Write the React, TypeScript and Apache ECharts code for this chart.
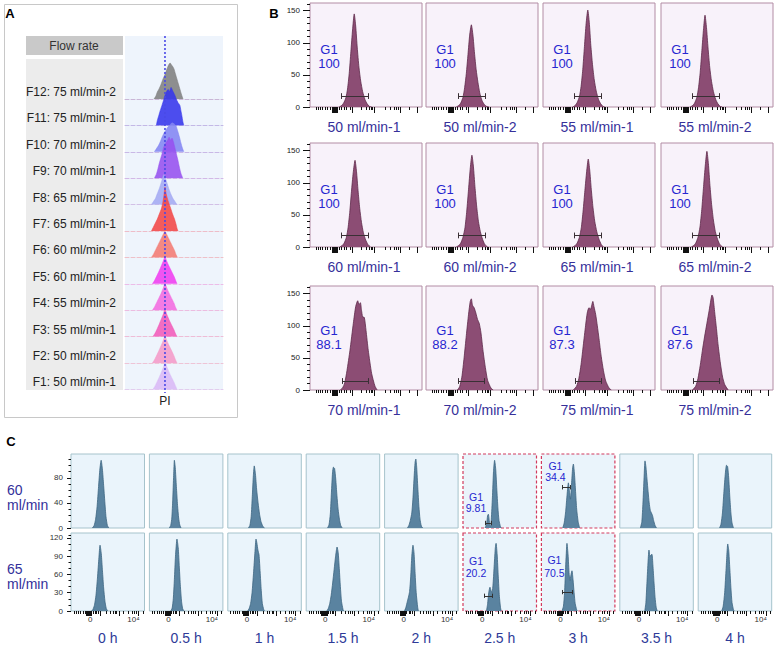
import React, { useEffect, useRef } from "react";
import * as echarts from "echarts";

const FONT = "'Liberation Sans', Arial, Helvetica, sans-serif";

// ---------------- Panel A data ----------------
const ridgeLabels = [
  "F12: 75 ml/min-2", "F11: 75 ml/min-1", "F10: 70 ml/min-2", "F9: 70 ml/min-1",
  "F8: 65 ml/min-2", "F7: 65 ml/min-1", "F6: 60 ml/min-2", "F5: 60 ml/min-1",
  "F4: 55 ml/min-2", "F3: 55 ml/min-1", "F2: 50 ml/min-2", "F1: 50 ml/min-1",
];
const ridgeColors = [
  "#7f7f7f", "#3535ec", "#8385f2", "#9650ef", "#a4aaf3", "#f24646",
  "#f47a72", "#f03cf0", "#f46ae0", "#f25ab9", "#f59ac8", "#d9b8f6",
];
const ridgeLineColors = [
  "#c9b6d6", "#c3b8e6", "#c9b8e6", "#d2b8e6", "#d2c0e6", "#eebdc8",
  "#eec0c8", "#ecbce8", "#ecbce0", "#eebcd6", "#eec4d6", "#e2cdee",
];
const ridgeF12 = [[29.6,0],[31.5,3],[33,7],[34.7,10],[36.5,14],[38.8,20],[41,25],[42.8,30],[44.5,34],[46,36],[47.5,34],[49,32],[50,30],[51.5,25],[53,20],[54.5,15],[56,10],[57.5,5],[59.2,0]];
const ridgeF11 = [[32,0],[33,5],[34.5,10],[36,15],[37.7,20],[39.3,25],[40.8,30],[42.5,34],[44,36],[45.5,34],[47,38],[48.5,35],[50,32],[51,30],[52.5,26],[54,23],[56,20],[57,15],[58,10],[59,4],[60,0]];
const ridgeF10 = [[30,0],[32,3],[34,6],[36,10],[38,15],[40,19],[42,22],[44,25],[46,27],[48,29],[50,28],[52,26],[54,20],[55.5,15],[57,9],[58.5,4],[60,0]];
const ridgeF9 = [[30,0],[32,4],[33.5,9],[35,15],[36.5,20],[38,25],[39.5,31],[41.5,35],[43.5,38],[45,41],[46.5,38],[48,40],[49.5,36],[51,30],[52.5,24],[54,18],[55.5,11],[57,5],[59,0]];
const ridgeF8 = [[27,0],[29,3],[31,6],[33,11],[35,16],[37,22],[38.5,27],[39.5,30],[41,27],[43,21],[45,15],[47,10],[49,6],[51,3],[53,0]];
const ridgeF7 = [[27,0],[29,4],[31,8],[33,12],[35,17],[37,22],[38.5,28],[39.8,36],[40.8,44],[42,37],[44,30],[46.5,23],[48.5,17],[50.5,12],[52,7],[53,3],[54,0]];
const ridgeF6 = [[27,0],[29,3],[31,7],[33,11],[35,15],[37,19],[39,23],[40.8,26],[42.5,23],[44.5,19],[46.5,15],[48.5,11],[50.5,7],[52,3],[53.5,0]];
const ridgeF5 = [[28,0],[30,3],[32,7],[34,11],[35.8,15],[37.5,19],[39.2,23],[40.8,27],[42.4,23],[44.2,19],[46.2,15],[48.2,11],[50.2,7],[51.8,3],[53,0]];
const ridgeF4 = [[28,0],[30,3],[32,7],[34,11],[36,15],[37.8,19],[39.4,23],[40.8,27],[42.3,23],[44,19],[46,15],[48,11],[50,7],[51.5,3],[53,0]];
const ridgeF3 = [[28.5,0],[30.5,3],[32.5,7],[34.3,11],[36,15],[37.7,19],[39.3,23],[40.8,28],[42.3,23],[44,19],[45.8,15],[47.8,11],[49.8,7],[51.5,3],[53,0]];
const ridgeF2 = [[28,0],[30,3],[32,7],[34,11],[35.8,15],[37.6,19],[39.3,23],[40.8,27],[42.4,23],[44.2,19],[46.2,15],[48.2,11],[50,7],[51.6,3],[53,0]];
const ridgeF1 = [[28.5,0],[30.5,3],[32.5,7],[34.4,11],[36.2,15],[37.9,19],[39.5,23],[41,28],[42.5,23],[44.2,19],[46,15],[48,11],[50,7],[51.7,3],[53,0]];
const ridgeData = [ridgeF12, ridgeF11, ridgeF10, ridgeF9, ridgeF8, ridgeF7, ridgeF6, ridgeF5, ridgeF4, ridgeF3, ridgeF2, ridgeF1];
const piMarker = 40.8;

// ---------------- Panel B data ----------------
const bLabels = [
  "50 ml/min-1", "50 ml/min-2", "55 ml/min-1", "55 ml/min-2",
  "60 ml/min-1", "60 ml/min-2", "65 ml/min-1", "65 ml/min-2",
  "70 ml/min-1", "70 ml/min-2", "75 ml/min-1", "75 ml/min-2",
];
const bG1Values = ["100", "100", "100", "100", "100", "100", "100", "100", "88.1", "88.2", "87.3", "87.6"];
const b50_1 = [[26,0],[28,2],[30,6],[32,14],[33.5,28],[35,52],[36.5,86],[38,120],[39.5,145],[40.8,126],[42.2,92],[43.7,62],[45.3,40],[47,24],[49,12],[51,5],[53,1],[55,0]];
const b50_2 = [[27,0],[29,2],[31,6],[33,15],[34.5,30],[36,52],[37.5,82],[39,112],[40.5,128],[41.9,112],[43.3,84],[44.8,58],[46.4,38],[48,22],[50,10],[52,4],[54,1],[56,0]];
const b55_1 = [[26.5,0],[28.5,2],[30.5,7],[32.5,16],[34,32],[35.5,58],[37,94],[38.5,130],[40,151],[41.3,132],[42.7,96],[44.2,66],[45.8,42],[47.5,25],[49.5,12],[51.5,5],[53.5,1],[55,0]];
const b55_2 = [[26,0],[28,2],[30,6],[32,15],[33.5,30],[35,54],[36.5,88],[38,122],[39.3,143],[40.6,124],[42,92],[43.5,62],[45.1,40],[46.8,24],[48.8,12],[50.8,5],[52.8,1],[54.5,0]];
const b60_1 = [[26.5,0],[28.5,2],[30.5,6],[32.5,15],[34,30],[35.5,54],[37,86],[38.6,116],[40.2,135],[41.5,118],[42.9,88],[44.4,60],[46,38],[47.7,22],[49.7,11],[51.7,4],[54,0]];
const b60_2 = [[27,0],[29,2],[31,6],[33,15],[34.8,30],[36.4,56],[38,90],[39.6,124],[41,143],[42.3,126],[43.7,94],[45.2,64],[46.8,40],[48.5,24],[50.5,12],[52.5,4],[55,0]];
const b65_1 = [[26.5,0],[28.5,2],[30.5,6],[32.5,15],[34.2,30],[35.8,56],[37.4,88],[39,118],[40.4,137],[41.7,120],[43.1,90],[44.6,62],[46.2,40],[48,24],[50,12],[52,4],[54,0]];
const b65_2 = [[27,0],[29,2],[31,6],[33,15],[34.8,31],[36.4,58],[38,94],[39.6,128],[41,149],[42.3,130],[43.7,96],[45.2,66],[46.8,42],[48.5,24],[50.5,12],[52.5,4],[55,0]];
const b70_1 = [[27,0],[29,3],[31,11],[33,30],[35.7,62],[38.7,104],[40.8,130],[42.6,139],[43.8,133],[45,136],[46,124],[47,114],[48.5,113],[50,93],[52,62],[55,26],[58,6],[60,0]];
const b70_2 = [[28,0],[30,5],[32,20],[34,50],[36,85],[38,118],[39.5,138],[40.5,142],[41.5,132],[43,128],[44.5,120],[46,110],[47.5,104],[49,90],[51,60],[53,35],[55,15],[58,3],[60,0]];
const b75_1 = [[27,0],[30,6],[32,18],[34,40],[36,70],[38,100],[39.5,120],[41,128],[42.5,126],[43.5,132],[44.5,138],[45.5,130],[47,118],[48.5,100],[50,80],[52,52],[54,30],[56,14],[59,3],[61,0]];
const b75_2 = [[28,0],[31,6],[33,18],[35,38],[37,62],[39,84],[41,104],[43,124],[44.5,140],[45.5,148],[46.5,144],[48,120],[49.5,96],[51,70],[53,42],[55,20],[57,8],[60,0]];
const bHists = [b50_1, b50_2, b55_1, b55_2, b60_1, b60_2, b65_1, b65_2, b70_1, b70_2, b75_1, b75_2];
// gate: [start, end, height]
const bGates = [
  [28, 52, 17], [29, 53, 17], [28, 52, 17], [28, 52, 17],
  [28, 52, 18], [29, 53, 18], [28, 52, 18], [28, 52, 18],
  [29, 52, 14], [29, 52, 14], [29, 52, 14], [29, 52, 14],
];
const bYMajorTicks = [0, 50, 100, 150];
const bYMinorTicks = [10, 20, 30, 40, 60, 70, 80, 90, 110, 120, 130, 140, 160];
const bXMajorTicks = [20, 20.4, 20.8, 21.2, 21.6, 22, 22.4, 22.8, 23.2, 23.6, 24, 37.8, 57.4, 81, 96];
const bXMinorTicks = [5.4, 7.4, 9.2, 11, 13.4, 15.8, 17.9, 26, 28, 30.7, 32.7, 35.7, 45.5, 50.6, 53, 54.5, 56, 67, 72, 75.3, 77.4, 78.9, 89];

// ---------------- Panel C data ----------------
const cTimes = ["0 h", "0.5 h", "1 h", "1.5 h", "2 h", "2.5 h", "3 h", "3.5 h", "4 h"];
const cRowNames = ["60", "65"];
const c60_0 = [[29,0],[31.5,4],[33.5,14],[35.5,34],[37.5,66],[39.3,94],[41,108],[42.7,94],[44.4,68],[46,42],[47.6,18],[49.5,4],[51.5,0]];
const c60_05 = [[27,0],[29,4],[30.5,16],[31.8,46],[33,84],[34,108],[35.2,96],[36.7,66],[38.3,36],[39.8,16],[41.3,5],[43,0]];
const c60_1 = [[28,0],[30,4],[31.8,18],[33.3,50],[34.8,84],[36,99],[37.6,86],[39.2,62],[41.2,40],[43.2,22],[45.2,10],[48,2],[50,0]];
const c60_15 = [[29,0],[31,5],[32.8,22],[34.3,56],[35.8,88],[37,97],[38.6,95],[40.2,78],[41.8,52],[43.4,30],[45.2,14],[47,4],[49,0]];
const c60_2 = [[31,0],[33,4],[35,12],[37,24],[38.5,46],[40,78],[41.5,105],[42.5,110],[43.7,96],[45.2,64],[46.7,34],[48.2,14],[50,3],[52,0]];
const c60_25 = [[30,0],[32,6],[33.5,20],[34.5,22],[35.5,14],[36.5,4],[37.5,3],[38.5,14],[40,48],[41.5,90],[43,108],[44.5,94],[46,62],[47.5,32],[49,12],[51,2],[52,0]];
const c60_3 = [[29,0],[31,8],[33,26],[35,54],[36.7,72],[38,60],[39.5,46],[41,70],[42.5,96],[43.5,102],[45,86],[46.5,58],[48,30],[50,10],[52,0]];
const c60_35 = [[28,0],[30,10],[31.5,40],[33,80],[34.3,107],[35.5,98],[37,78],[38.5,58],[40,40],[41.5,28],[43,24],[44.5,20],[46,12],[48,4],[50,0]];
const c60_4 = [[29,0],[31,6],[33,24],[35,58],[37,88],[38.5,100],[40,98],[41.5,80],[43,50],[44.5,24],[46,8],[48,0]];
const c65_0 = [[28,0],[30,3],[32,10],[34,26],[36,54],[38,88],[39.5,108],[41.2,94],[42.8,66],[44.4,38],[46.2,16],[48,4],[50,0]];
const c65_05 = [[29,0],[31,5],[32.5,20],[34,52],[35.5,90],[37.5,118],[39.2,104],[40.7,72],[42.2,40],[43.7,16],[45.2,4],[47,0]];
const c65_1 = [[27,0],[29,4],[31,12],[33,30],[35,62],[37,98],[38.4,118],[39.5,112],[41,100],[42.5,92],[44,64],[45.5,34],[47,12],[49,2],[50,0]];
const c65_15 = [[28,0],[30,4],[32,12],[34,26],[36,46],[38,68],[40,90],[42,105],[43.5,96],[45,70],[46.5,40],[48,16],[50,3],[51,0]];
const c65_2 = [[27,0],[29,6],[31,16],[32.5,23],[34,32],[35.5,56],[37,90],[38.6,108],[40,96],[41.5,62],[43,30],[45,6],[46,0]];
const c65_25 = [[32,0],[33.5,12],[35,30],[36.7,39],[38,34],[39.5,30],[41,46],[42.5,76],[44,104],[45,111],[46.5,92],[48,56],[49.5,24],[51,6],[52,0]];
const c65_3 = [[28,0],[30,8],[31.5,30],[33,72],[34.8,111],[36.3,92],[37.8,60],[39,50],[40,58],[41.6,66],[43,52],[44.5,30],[46,12],[48,2],[49,0]];
const c65_35 = [[34,0],[35.5,14],[37,48],[38.5,82],[39.7,100],[41,90],[42.5,92],[43.8,93],[45,76],[46.5,48],[48,22],[49.5,6],[51,0]];
const c65_4 = [[32,0],[34,8],[36,30],[38,70],[40.2,110],[41.5,100],[43,70],[44.5,38],[46,14],[48,2],[49,0]];
const cHists = [
  [c60_0, c60_05, c60_1, c60_15, c60_2, c60_25, c60_3, c60_35, c60_4],
  [c65_0, c65_05, c65_1, c65_15, c65_2, c65_25, c65_3, c65_35, c65_4],
];
const cG1Values = [
  [null, null, null, null, null, "9.81", "34.4", null, null],
  [null, null, null, null, null, "20.2", "70.5", null, null],
];
const cGates = [
  [null, null, null, null, null, [30, 38, 8], [28.4, 39.3, 65], null, null],
  [null, null, null, null, null, [28.6, 39.5, 25], [28, 41.6, 31], null, null],
];
const cHighlighted = [5, 6];
const cYMax = [118, 128];
const cYMajorTicks = [[0, 40, 80], [0, 30, 60, 90, 120]];
const cYMinorTicks = [[10, 20, 30, 50, 60, 70, 90, 100, 110], [10, 20, 40, 50, 70, 80, 100, 110, 125]];
const cXLabelTicks = [26, 85];
const cXMajorTicks = [21, 21.5, 22, 22.5, 23, 23.5, 24, 24.5, 25, 25.5, 26, 26.5, 27, 27.5, 28, 40, 66, 92];
const cXMinorTicks = [4, 7, 10, 13, 16, 19, 30, 33, 35, 37, 48, 53, 57, 60, 62, 71, 78, 83, 86, 89, 98];

// ---------------- Layout ----------------
const A_PLOT = { x: 125, y: 36, w: 98, h: 354 };
const A_BASE0 = 99;
const A_STEP = 26.4;
const A_RIDGE_H = 50;
const B_LEFTS = [310, 426, 543, 661];
const B_TOPS = [3, 143, 286];
const B_W = 112;
const B_H = 104;
const C_LEFTS = [71, 149.4, 227.8, 306.2, 384.6, 463, 541.4, 619.8, 698.2];
const C_TOPS = [454, 533];
const C_HS = [74, 78];
const C_W = 73.5;
const C_G1_POS = [
  [null, null, null, null, null, [13, 42.5, 53.5], [14, 11.5, 23], null, null],
  [null, null, null, null, null, [13, 27.5, 40], [13, 27, 40], null, null],
];

function txt(x: number, y: number, s: string, size: number, color: string, align = "center", weight = "normal") {
  return {
    type: "text", x, y, z: 20,
    style: {
      text: s, fill: color, fontSize: size, fontFamily: FONT, fontWeight: weight,
      textAlign: align, align, textVerticalAlign: "middle", verticalAlign: "middle",
    },
  };
}

function buildOption() {
  const grid: any[] = [];
  const xAxis: any[] = [];
  const yAxis: any[] = [];
  const series: any[] = [];
  const graphic: any[] = [];

  const baseAxis = (gi: number, min: number, max: number) => ({
    gridIndex: gi, type: "value", min, max,
    splitLine: { show: false }, axisLine: { show: false },
    axisTick: { show: false }, axisLabel: { show: false },
  });
  const tickAxis = (kind: "x" | "y", gi: number, min: number, max: number, ticks: number[], len: number, label?: any) => ({
    ...baseAxis(gi, min, max),
    position: kind === "x" ? "bottom" : "left",
    axisTick: { show: true, inside: false, length: len, customValues: ticks, lineStyle: { color: "#111", width: 1 } },
    axisLabel: label ? label : { show: false },
  });

  // ---------- Panel A ----------
  graphic.push({ type: "rect", z: -10, shape: { x: 4.5, y: 4.5, width: 233, height: 413 }, style: { fill: "#fff", stroke: "#c8c8c8", lineWidth: 1 } });
  graphic.push({ type: "rect", z: -9, shape: { x: 26, y: 36, width: 97, height: 19 }, style: { fill: "#c9c9c9" } });
  graphic.push({ type: "rect", z: -9, shape: { x: 26, y: 59, width: 97, height: 331 }, style: { fill: "#ececec" } });
  graphic.push({ type: "rect", z: -9, shape: { x: A_PLOT.x, y: A_PLOT.y, width: A_PLOT.w, height: A_PLOT.h }, style: { fill: "#eef4fc" } });
  graphic.push(txt(10, 13, "A", 13, "#000", "center", "bold"));
  graphic.push(txt(74, 45.5, "Flow rate", 12, "#333"));
  graphic.push(txt(A_PLOT.x + (piMarker / 100) * A_PLOT.w, 401, "PI", 12, "#222"));

  ridgeData.forEach((d, i) => {
    const base = A_BASE0 + i * A_STEP;
    const gi = grid.length;
    grid.push({ left: A_PLOT.x, top: base - A_RIDGE_H, width: A_PLOT.w, height: A_RIDGE_H });
    xAxis.push({
      ...baseAxis(gi, 0, 100), position: "bottom",
      axisLine: { show: true, lineStyle: { color: ridgeLineColors[i], type: "dashed", width: 1 } },
    });
    const xi = xAxis.length - 1;
    yAxis.push({ ...baseAxis(gi, 0, A_RIDGE_H), show: false });
    const yi = yAxis.length - 1;
    series.push({
      type: "line", xAxisIndex: xi, yAxisIndex: yi, data: d, smooth: 0.2,
      symbol: "none", silent: true,
      lineStyle: { color: ridgeColors[i], width: 0.6, opacity: 0.9 },
      areaStyle: { color: ridgeColors[i], opacity: 0.88 },
    });
    graphic.push(txt(116, base - 7, ridgeLabels[i], 12, "#222", "right"));
  });
  graphic.push({
    type: "line", z: 100,
    shape: { x1: A_PLOT.x + (piMarker / 100) * A_PLOT.w, y1: A_PLOT.y, x2: A_PLOT.x + (piMarker / 100) * A_PLOT.w, y2: 393 },
    style: { stroke: "#4a4ae6", lineWidth: 1.6, lineDash: [2, 2] },
  });

  // ---------- Panel B ----------
  graphic.push(txt(274, 13, "B", 13, "#000", "center", "bold"));
  bHists.forEach((d, k) => {
    const r = Math.floor(k / 4), c = k % 4;
    const left = B_LEFTS[c], top = B_TOPS[r];
    graphic.push({ type: "rect", z: -10, shape: { x: left, y: top, width: B_W, height: B_H }, style: { fill: "#f8f2fa", stroke: "#b28ca4", lineWidth: 1 } });
    const gi = grid.length;
    grid.push({ left, top, width: B_W, height: B_H });
    xAxis.push(tickAxis("x", gi, 0, 100, bXMinorTicks, 3));
    xAxis.push(tickAxis("x", gi, 0, 100, bXMajorTicks, 6));
    const xi = xAxis.length - 1;
    if (c === 0) {
      yAxis.push(tickAxis("y", gi, 0, 162, bYMinorTicks, 3));
      yAxis.push(tickAxis("y", gi, 0, 162, bYMajorTicks, 7, {
        show: true, customValues: bYMajorTicks, fontSize: 8, color: "#222", fontFamily: FONT, margin: 10,
      }));
    } else {
      yAxis.push({ ...baseAxis(gi, 0, 162), show: false });
    }
    const yi = yAxis.length - 1;
    const g = bGates[k];
    const cap = 4.5;
    series.push({
      type: "line", xAxisIndex: xi, yAxisIndex: yi, data: d, smooth: 0.2,
      symbol: "none", silent: true,
      lineStyle: { color: "#5e2a4a", width: 0.8 },
      areaStyle: { color: "#8c4d74", opacity: 1 },
      markLine: {
        silent: true, symbol: ["none", "none"], label: { show: false },
        lineStyle: { color: "#3a3035", width: 1, type: "solid" },
        data: [
          [{ coord: [g[0], g[2]] }, { coord: [g[1], g[2]] }],
          [{ coord: [g[0], g[2] - cap] }, { coord: [g[0], g[2] + cap] }],
          [{ coord: [g[1], g[2] - cap] }, { coord: [g[1], g[2] + cap] }],
        ],
      },
    });
    const gx = left + 19;
    const gy = r === 2 ? top + 44 : top + 46;
    graphic.push(txt(gx, gy, "G1", 13, "#2626d0"));
    graphic.push(txt(gx, gy + 14, bG1Values[k], 13, "#2626d0"));
    graphic.push(txt(left + 54, top + 124, bLabels[k], 14, "#36309a"));
  });

  // ---------- Panel C ----------
  graphic.push(txt(11, 441, "C", 13, "#000", "center", "bold"));
  cHists.forEach((row, r) => {
    const top = C_TOPS[r], h = C_HS[r];
    graphic.push(txt(7, top + 36, cRowNames[r], 14, "#33309a", "left"));
    graphic.push(txt(7, top + 51, "ml/min", 14, "#33309a", "left"));
    row.forEach((d, c) => {
      const left = C_LEFTS[c];
      const hl = cHighlighted.indexOf(c) >= 0;
      graphic.push({
        type: "rect", z: -10, shape: { x: left, y: top, width: C_W, height: h },
        style: hl
          ? { fill: "#eaf4fb", stroke: "#d23a5e", lineWidth: 1.2, lineDash: [3, 2] }
          : { fill: "#eaf4fb", stroke: "#a6c3cc", lineWidth: 1 },
      });
      const gi = grid.length;
      grid.push({ left, top, width: C_W, height: h });
      if (r === 1) {
        xAxis.push(tickAxis("x", gi, 0, 100, cXMinorTicks, 3));
        xAxis.push(tickAxis("x", gi, 0, 100, cXMajorTicks, 5, {
          show: true, customValues: cXLabelTicks, fontSize: 8, color: "#333", fontFamily: FONT, margin: 4,
          formatter: (v: number) => (v < 50 ? "0" : "10⁴"),
        }));
      } else {
        xAxis.push({ ...baseAxis(gi, 0, 100), show: false });
      }
      const xi = xAxis.length - 1;
      if (c === 0) {
        yAxis.push(tickAxis("y", gi, 0, cYMax[r], cYMinorTicks[r], 2.5));
        yAxis.push(tickAxis("y", gi, 0, cYMax[r], cYMajorTicks[r], 4, {
          show: true, customValues: cYMajorTicks[r], fontSize: 8, color: "#333", fontFamily: FONT, margin: 8,
        }));
      } else {
        yAxis.push({ ...baseAxis(gi, 0, cYMax[r]), show: false });
      }
      const yi = yAxis.length - 1;
      const s: any = {
        type: "line", xAxisIndex: xi, yAxisIndex: yi, data: d, smooth: 0.2,
        symbol: "none", silent: true,
        lineStyle: { color: "#3d6682", width: 0.8 },
        areaStyle: { color: "#5a83a0", opacity: 1 },
      };
      const g = cGates[r][c] as any;
      if (g) {
        const cap = 3.5;
        s.markLine = {
          silent: true, symbol: ["none", "none"], label: { show: false },
          lineStyle: { color: "#333", width: 1, type: "solid" },
          data: [
            [{ coord: [g[0], g[2]] }, { coord: [g[1], g[2]] }],
            [{ coord: [g[0], g[2] - cap] }, { coord: [g[0], g[2] + cap] }],
            [{ coord: [g[1], g[2] - cap] }, { coord: [g[1], g[2] + cap] }],
          ],
        };
      }
      series.push(s);
      const gv = cG1Values[r][c];
      const pos = C_G1_POS[r][c] as any;
      if (gv && pos) {
        graphic.push(txt(left + pos[0], top + pos[1], "G1", 10.5, "#2626d0"));
        graphic.push(txt(left + pos[0], top + pos[2], gv, 10.5, "#2626d0"));
      }
      if (r === 1) {
        graphic.push(txt(left + C_W / 2, 638, cTimes[c], 14, "#2e3a98"));
      }
    });
  });

  return {
    animation: false,
    backgroundColor: "#ffffff",
    textStyle: { fontFamily: FONT },
    grid, xAxis, yAxis, series,
    graphic: { elements: graphic },
  };
}

export default function App() {
  const ref = useRef<HTMLDivElement>(null);
  useEffect(() => {
    document.body.style.margin = "0";
    const chart = echarts.init(ref.current as HTMLDivElement, null, { renderer: "svg" });
    chart.setOption(buildOption() as any);
    return () => chart.dispose();
  }, []);
  return <div ref={ref} style={{ width: 777, height: 645 }} />;
}
